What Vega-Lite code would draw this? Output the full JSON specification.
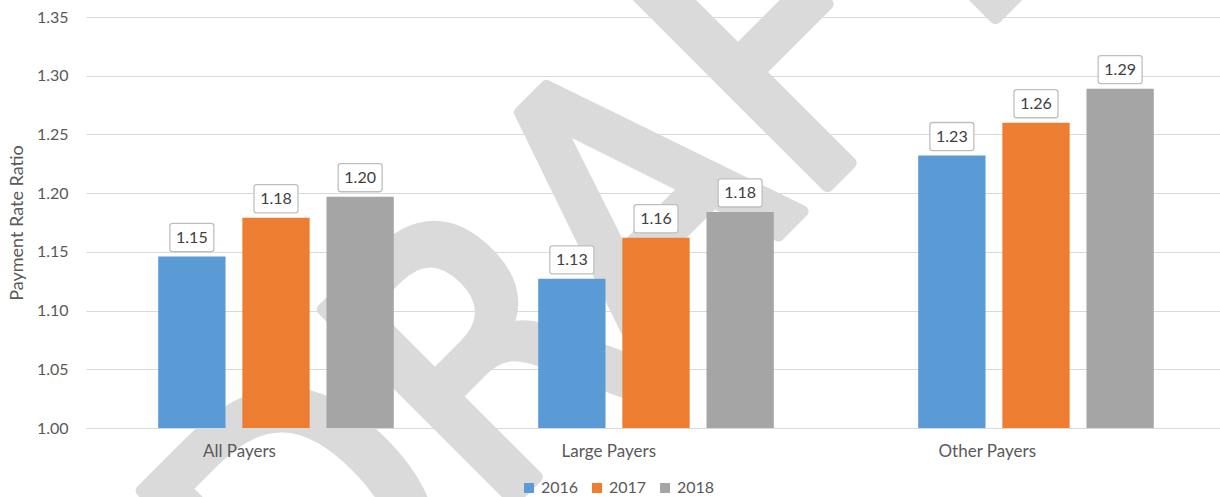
{
  "$schema": "https://vega.github.io/schema/vega-lite/v6.json",
  "width": 1134,
  "height": 411,
  "autosize": "none",
  "padding": {"left": 86, "top": 17, "right": 0, "bottom": 69},
  "background": "white",
  "config": {
    "view": {"stroke": null},
    "font": "Lato",
    "axis": {"labelFont": "Lato", "titleFont": "Lato"},
    "legend": {"labelFont": "Lato"}
  },
  "datasets": {
    "bars": [
      {"group": "All Payers", "year": "2016", "value": 1.146},
      {"group": "All Payers", "year": "2017", "value": 1.179},
      {"group": "All Payers", "year": "2018", "value": 1.197},
      {"group": "Large Payers", "year": "2016", "value": 1.127},
      {"group": "Large Payers", "year": "2017", "value": 1.162},
      {"group": "Large Payers", "year": "2018", "value": 1.184},
      {"group": "Other Payers", "year": "2016", "value": 1.232},
      {"group": "Other Payers", "year": "2017", "value": 1.26},
      {"group": "Other Payers", "year": "2018", "value": 1.289}
    ],
    "wm": [{"label": "DRAFT"}]
  },
  "layer": [
    {
      "data": {"name": "wm"},
      "mark": {
        "type": "text",
        "angle": -45,
        "fontSize": 370,
        "font": "Liberation Sans Narrow, DejaVu Sans Condensed, Liberation Sans",
        "color": "#dadada",
        "stroke": "#dadada",
        "strokeWidth": 12,
        "strokeJoin": "round",
        "align": "center",
        "baseline": "alphabetic",
        "xOffset": 38,
        "yOffset": -26
      },
      "encoding": {
        "x": {"datum": "Large Payers", "type": "nominal"},
        "y": {"datum": 1.07, "type": "quantitative"},
        "text": {"field": "label"}
      }
    },
    {
      "data": {"name": "bars"},
      "mark": {"type": "bar"},
      "encoding": {
        "x": {
          "field": "group",
          "type": "nominal",
          "scale": {"domain": ["All Payers", "Large Payers", "Other Payers"], "range": [0, 1140], "paddingInner": 0.38, "paddingOuter": 0.19},
          "axis": {
            "title": null,
            "labelAngle": 0,
            "labelFontSize": 17,
            "labelColor": "#595959",
            "labelPadding": 23,
            "ticks": false,
            "domain": true,
            "domainColor": "#d9d9d9",
            "grid": false,
            "zindex": 1
          }
        },
        "xOffset": {"field": "year", "type": "nominal", "scale": {"paddingInner": 0.2, "paddingOuter": 0}},
        "y": {
          "field": "value",
          "type": "quantitative",
          "scale": {"domain": [1, 1.35], "zero": false, "nice": false},
          "axis": {
            "title": "Payment Rate Ratio",
            "titleFontSize": 18,
            "titleFontWeight": "normal",
            "titleColor": "#595959",
            "titlePadding": 10,
            "values": [1, 1.05, 1.1, 1.15, 1.2, 1.25, 1.3, 1.35],
            "format": ".2f",
            "labelFontSize": 16,
            "labelColor": "#595959",
            "labelPadding": 18,
            "ticks": false,
            "domain": false,
            "grid": true,
            "gridColor": "#d9d9d9"
          }
        },
        "y2": {"datum": 1},
        "color": {
          "field": "year",
          "type": "nominal",
          "scale": {"domain": ["2016", "2017", "2018"], "range": ["#5B9BD5", "#ED7D31", "#A5A5A5"]},
          "legend": {
            "title": null,
            "orient": "none",
            "direction": "horizontal",
            "legendX": 435,
            "legendY": 463,
            "symbolType": "square",
            "symbolSize": 100,
            "symbolStrokeWidth": 0,
            "labelFontSize": 16,
            "labelColor": "#595959",
            "labelOffset": 4,
            "columnPadding": 10,
            "padding": 0,
            "zindex": 1
          }
        }
      }
    },
    {
      "data": {"name": "bars"},
      "mark": {
        "type": "point",
        "shape": "M-0.88,-0.64 H0.88 Q1,-0.64 1,-0.52 V0.52 Q1,0.64 0.88,0.64 H-0.88 Q-1,0.64 -1,0.52 V-0.52 Q-1,-0.64 -0.88,-0.64 Z",
        "size": 1936,
        "filled": true,
        "fill": "white",
        "stroke": "#bfbfbf",
        "strokeWidth": 1.3,
        "opacity": 1,
        "yOffset": -19
      },
      "encoding": {
        "x": {"field": "group", "type": "nominal"},
        "xOffset": {"field": "year", "type": "nominal"},
        "y": {"field": "value", "type": "quantitative"}
      }
    },
    {
      "data": {"name": "bars"},
      "mark": {"type": "text", "fontSize": 16, "color": "#404040", "baseline": "middle", "yOffset": -19},
      "encoding": {
        "x": {"field": "group", "type": "nominal"},
        "xOffset": {"field": "year", "type": "nominal"},
        "y": {"field": "value", "type": "quantitative"},
        "text": {"field": "value", "type": "quantitative", "format": ".2f"}
      }
    }
  ]
}
